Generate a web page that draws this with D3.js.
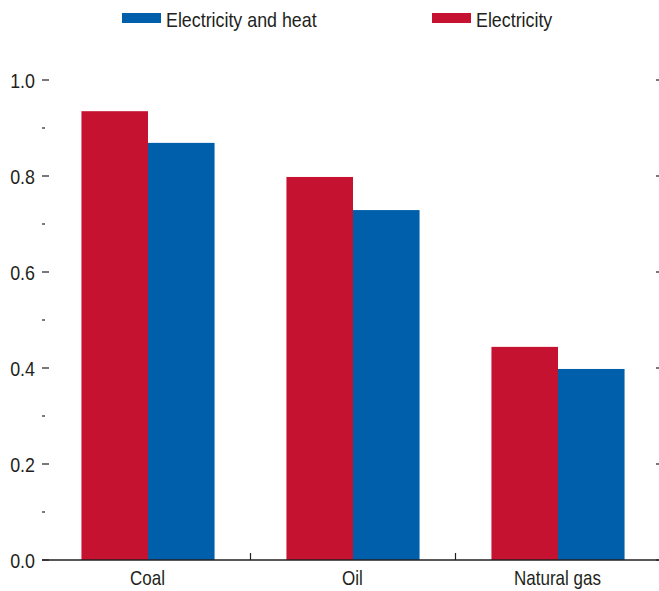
<!DOCTYPE html>
<html><head><meta charset="utf-8">
<script src="https://cdn.jsdelivr.net/npm/d3@7"></script>
<style>body{margin:0;background:#fff}svg{display:block}text{font-family:"Liberation Sans Narrow","Arial Narrow","Liberation Sans",sans-serif;fill:#231f20}</style>
</head><body><svg id="c" width="659" height="591"></svg>
<script>
const categories = ["Coal", "Oil", "Natural gas"];
const seriesNames = ["Electricity", "Electricity and heat"];
const electricity = [0.935, 0.798, 0.444];
const electricityAndHeat = [0.869, 0.729, 0.398];
const yTicks = [0.0, 0.2, 0.4, 0.6, 0.8, 1.0];
const yMinorTicks = [0.1, 0.3, 0.5, 0.7, 0.9];
const legendOrder = ["Electricity and heat", "Electricity"];
const colors = {"Electricity": "#c41230", "Electricity and heat": "#005fab"};

const SX = 0.85;
const svg = d3.select("#c");
const y = d3.scaleLinear().domain([0, 1]).range([560, 80]);
const x0 = d3.scaleBand().domain(categories).range([45.5, 660.5]).padding(0);
const x1 = d3.scaleBand().domain(seriesNames).range([0, x0.bandwidth()]).paddingInner(0).paddingOuter(0.54);

function label(sel, x, yy) {
  return sel.attr("transform", (d, i) => `translate(${typeof x === "function" ? x(d, i) : x},${typeof yy === "function" ? yy(d, i) : yy}) scale(${SX},1)`);
}

const values = {"Electricity": electricity, "Electricity and heat": electricityAndHeat};
const g = svg.append("g");
categories.forEach((c, i) => {
  seriesNames.forEach(s => {
    const v = values[s][i];
    g.append("rect")
      .attr("x", x0(c) + x1(s))
      .attr("y", y(v))
      .attr("width", x1.bandwidth())
      .attr("height", y(0) - y(v))
      .attr("fill", colors[s]);
  });
});

// left axis
const left = svg.append("g").attr("transform", "translate(42,0)");
left.selectAll(".maj").data(yTicks).join("line")
  .attr("x1", 0).attr("x2", 7).attr("y1", d => y(d)).attr("y2", d => y(d))
  .attr("stroke", "#231f20").attr("stroke-width", 1.2);
left.selectAll(".min").data(yMinorTicks).join("line")
  .attr("x1", 0).attr("x2", 3).attr("y1", d => y(d)).attr("y2", d => y(d))
  .attr("stroke", "#231f20").attr("stroke-width", 1.2);
label(left.selectAll("text").data(yTicks).join("text"), -7, d => y(d))
  .attr("dy", "0.36em")
  .attr("text-anchor", "end").style("font-size", "21px")
  .text(d => d3.format(".1f")(d));

// right ticks
svg.append("g").selectAll("line").data(yTicks).join("line")
  .attr("x1", 656).attr("x2", 659).attr("y1", d => y(d)).attr("y2", d => y(d))
  .attr("stroke", "#231f20").attr("stroke-width", 1.2);

// x axis baseline
svg.append("line").attr("x1", 42).attr("x2", 659).attr("y1", y(0)).attr("y2", y(0))
  .attr("stroke", "#231f20").attr("stroke-width", 1.4);
// separators
svg.append("g").selectAll("line").data(categories.slice(1)).join("line")
  .attr("x1", d => x0(d)).attr("x2", d => x0(d))
  .attr("y1", y(0)).attr("y2", y(0) - 7)
  .attr("stroke", "#231f20").attr("stroke-width", 1.2);
// category labels
label(svg.append("g").selectAll("text").data(categories).join("text"), d => x0(d) + x0.bandwidth() / 2 - 0.5, 585)
  .attr("text-anchor", "middle").style("font-size", "20px")
  .text(d => d);

// legend
const legX = {"Electricity and heat": 122, "Electricity": 432};
const leg = svg.append("g");
legendOrder.forEach(s => {
  leg.append("rect").attr("x", legX[s]).attr("y", 13).attr("width", 39).attr("height", 10).attr("fill", colors[s]);
  leg.append("text").attr("transform", `translate(${legX[s] + 44},27) scale(${SX},1)`).style("font-size", "21px").text(s);
});
</script></body></html>
